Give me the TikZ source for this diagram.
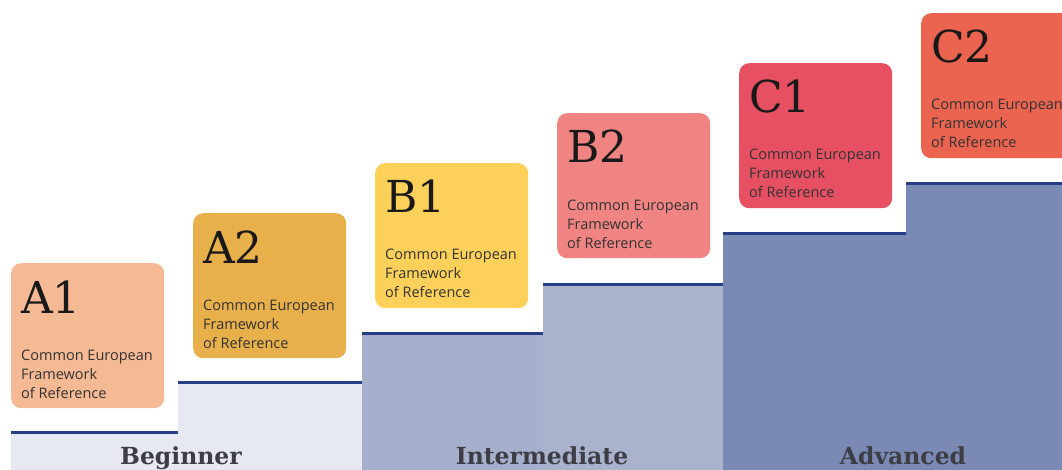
\documentclass[tikz,border=0pt]{standalone}
\usepackage{fontspec}
\setmainfont{DejaVu Serif}
\newfontfamily\bodyfont{Open Sans}
\definecolor{stepline}{HTML}{263E86}
\definecolor{stepone}{HTML}{E6E9F1}
\definecolor{steptwo}{HTML}{A6AFCB}
\definecolor{stepthree}{HTML}{7B89B5}
\definecolor{boxaone}{HTML}{F5B994}
\definecolor{boxatwo}{HTML}{E8B04A}
\definecolor{boxbone}{HTML}{FDD05A}
\definecolor{boxbtwo}{HTML}{F08482}
\definecolor{boxcone}{HTML}{E65062}
\definecolor{boxctwo}{HTML}{EA6450}
\definecolor{bandtext}{HTML}{3D3D45}
\tikzset{
  levelbox/.style={rounded corners=10pt, minimum width=153pt, minimum height=145pt, anchor=north west, inner sep=0pt},
  leveltitle/.style={anchor=base west, inner sep=0pt, font=\fontsize{44}{44}\selectfont, text=black!90},
  levelnote/.style={anchor=base west, inner sep=0pt, align=left, text=black!80, font=\bodyfont\fontsize{14.5}{19}\selectfont},
  bandlabel/.style={anchor=base, inner sep=0pt, text=bandtext, font=\bfseries\fontsize{23.5}{23.5}\selectfont},
  stepedge/.style={draw=stepline, line width=3pt}
}
\begin{document}
\begin{tikzpicture}[x=1pt,y=-1pt]
\useasboundingbox (0,0) rectangle (1062,470);
\fill[white] (0,0) rectangle (1062,470);
% stairs
\fill[stepone] (11,432) rectangle (178,470);
\fill[stepone] (178,382) rectangle (362,470);
\fill[steptwo] (362,333) rectangle (543,470);
\fill[steptwo!96!white] (543,284) rectangle (723,470);
\fill[stepthree] (723,234) rectangle (906,470);
\fill[stepthree] (906,184) rectangle (1062,470);
\draw[stepedge] (11,432) -- (178,432);
\draw[stepedge] (178,382) -- (362,382);
\draw[stepedge] (362,333) -- (543,333);
\draw[stepedge] (543,284) -- (723,284);
\draw[stepedge] (723,234) -- (906,234);
\draw[stepedge] (906,184) -- (1062,184);
% level cards
\node[levelbox, fill=boxaone] (aonebox) at (11,263) {};
\node[levelbox, fill=boxatwo] (atwobox) at (193,213) {};
\node[levelbox, fill=boxbone] (bonebox) at (375,163) {};
\node[levelbox, fill=boxbtwo] (btwobox) at (557,113) {};
\node[levelbox, fill=boxcone] (conebox) at (739,63) {};
\node[levelbox, fill=boxctwo] (ctwobox) at (921,13) {};
\node[leveltitle] (aone) at (21,313) {A1};
\node[leveltitle] (atwo) at (203,263) {A2};
\node[leveltitle] (bone) at (385,213) {B1};
\node[leveltitle] (btwo) at (567,163) {B2};
\node[leveltitle] (cone) at (749,113) {C1};
\node[leveltitle] (ctwo) at (931,63) {C2};
\node[levelnote] (aonenote) at (21,398) {Common European\\Framework\\of Reference};
\node[levelnote] (atwonote) at (203,348) {Common European\\Framework\\of Reference};
\node[levelnote] (bonenote) at (385,298) {Common European\\Framework\\of Reference};
\node[levelnote] (btwonote) at (567,248) {Common European\\Framework\\of Reference};
\node[levelnote] (conenote) at (749,198) {Common European\\Framework\\of Reference};
\node[levelnote] (ctwonote) at (931,148) {Common European\\Framework\\of Reference};
% bands
\node[bandlabel] (beginner) at (181,464) {Beginner};
\node[bandlabel] (intermediate) at (542,464) {Intermediate};
\node[bandlabel] (advanced) at (903,464) {Advanced};
\end{tikzpicture}
\end{document}
